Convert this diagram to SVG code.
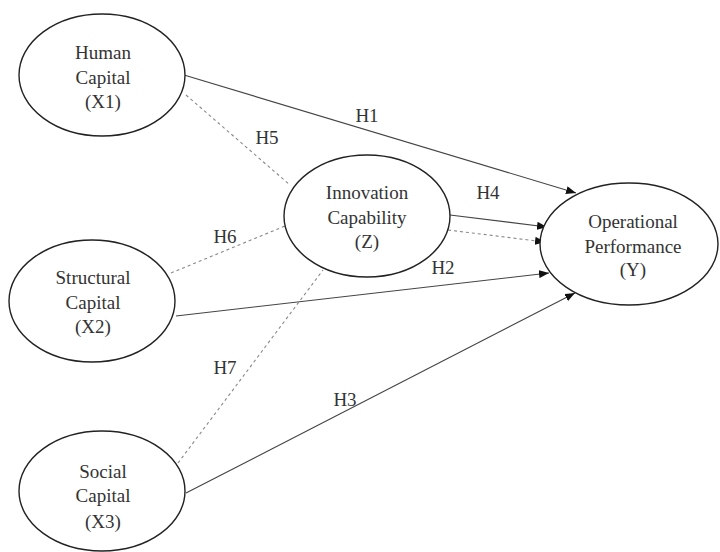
<svg xmlns="http://www.w3.org/2000/svg" width="720" height="552" viewBox="0 0 720 552">
<style>
.node ellipse{fill:#fff;stroke:#222;stroke-width:1.4}
text{font-family:"Liberation Serif","Times New Roman",serif;font-size:19px;fill:#333;text-anchor:middle}
.solid{stroke:#444;stroke-width:1.1;fill:none}
.dash{stroke:#888;stroke-width:1.1;fill:none;stroke-dasharray:3 3}
</style>
<defs>
<marker id="arr" viewBox="0 0 10 8" refX="10" refY="4" markerWidth="10" markerHeight="8" markerUnits="userSpaceOnUse" orient="auto">
<path d="M0,0 L10,4 L0,8 Z" fill="#111"/>
</marker>
</defs>
<rect width="720" height="552" fill="#fff"/>
<g id="connectors">
<line class="solid" x1="184" y1="75" x2="576" y2="193" marker-end="url(#arr)"/>
<line class="dash" x1="186" y1="95" x2="290" y2="185"/>
<line class="dash" x1="171" y1="273" x2="285" y2="226"/>
<line class="solid" x1="176" y1="316" x2="549" y2="273" marker-end="url(#arr)"/>
<line class="dash" x1="178" y1="463" x2="323" y2="270"/>
<line class="solid" x1="186" y1="493" x2="575" y2="293" marker-end="url(#arr)"/>
<line class="solid" x1="450" y1="215" x2="547" y2="227" marker-end="url(#arr)"/>
<line class="dash" x1="448" y1="230" x2="545" y2="242" marker-end="url(#arr)"/>
<text x="367" y="122">H1</text>
<text x="267" y="144">H5</text>
<text x="488" y="199">H4</text>
<text x="225" y="243">H6</text>
<text x="443" y="274">H2</text>
<text x="225" y="374">H7</text>
<text x="345" y="406">H3</text>
</g>
<g id="human" class="node">
<ellipse cx="102" cy="75" rx="83" ry="61"/>
<text x="103" y="59">Human</text>
<text x="103" y="84">Capital</text>
<text x="103" y="108">(X1)</text>
</g>
<g id="structural" class="node">
<ellipse cx="92" cy="301" rx="83" ry="61"/>
<text x="93" y="284">Structural</text>
<text x="93" y="309">Capital</text>
<text x="93" y="333">(X2)</text>
</g>
<g id="social" class="node">
<ellipse cx="102" cy="491" rx="83" ry="60"/>
<text x="103" y="478">Social</text>
<text x="103" y="502">Capital</text>
<text x="103" y="528">(X3)</text>
</g>
<g id="innovation" class="node">
<ellipse cx="367" cy="216" rx="83" ry="61"/>
<text x="367" y="199">Innovation</text>
<text x="367" y="224">Capability</text>
<text x="367" y="248">(Z)</text>
</g>
<g id="operational" class="node">
<ellipse cx="629" cy="244" rx="89" ry="61"/>
<text x="633" y="228">Operational</text>
<text x="633" y="253">Performance</text>
<text x="633" y="276">(Y)</text>
</g>
</svg>
